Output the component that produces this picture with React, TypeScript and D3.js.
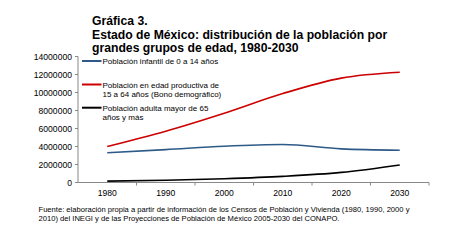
import React from "react";
import * as d3 from "d3";

const years = ["1980", "1990", "2000", "2010", "2020", "2030"];
const infantil = [3300000, 3650000, 4030000, 4220000, 3740000, 3590000];
const productiva = [4000000, 5700000, 7700000, 9880000, 11600000, 12250000];
const adulta = [150000, 250000, 420000, 680000, 1120000, 1950000];
const yTicks = [0, 2000000, 4000000, 6000000, 8000000, 10000000, 12000000, 14000000];

const titleLines = [
  "Gráfica 3.",
  "Estado de México: distribución de la población por",
  "grandes grupos de edad, 1980-2030",
];
const legendItems = [
  { lines: ["Población infantil de 0 a 14 años"], color: "#2E5A88" },
  { lines: ["Población en edad productiva de", "15 a 64 años (Bono demográfico)"], color: "#CC0000" },
  { lines: ["Población adulta mayor de 65", "años y más"], color: "#000000" },
];
const footerLines = [
  "Fuente: elaboración propia a partir de información de los Censos de Población y Vivienda (1980, 1990, 2000 y",
  "2010) del INEGI y de las Proyecciones de Población de México 2005-2030 del CONAPO.",
];

export default function App() {
  const W = 452, H = 247;
  const left = 78, right = 429, top = 56.5, bottom = 182.5;
  const x = d3.scaleBand<string>().domain(years).range([left, right]);
  const y = d3.scaleLinear().domain([0, 14000000]).range([bottom, top]);
  const cx = (i: number) => (x(years[i]) as number) + x.bandwidth() / 2;
  const line = d3
    .line<number>()
    .x((_, i) => cx(i))
    .y((d) => y(d))
    .curve(d3.curveMonotoneX);
  const series = [
    { data: infantil, color: "#2E5A88" },
    { data: productiva, color: "#CC0000" },
    { data: adulta, color: "#000000" },
  ];
  const font = "'Liberation Sans', Arial, sans-serif";
  const legendY = [61, 84.5, 107.7];
  return (
    <svg
      width={W}
      height={H}
      style={{ position: "absolute", left: 0, top: 0, background: "#fff" }}
      fontFamily={font}
    >
      {titleLines.map((t, i) => (
        <text key={i} x={92} y={25 + i * 13.5} fontSize={12.2} fontWeight="bold" fill="#000">
          {t}
        </text>
      ))}
      {/* y axis */}
      <line x1={left} x2={left} y1={top} y2={bottom} stroke="#888" />
      {yTicks.map((t) => (
        <g key={t}>
          <line x1={left - 3} x2={left} y1={y(t)} y2={y(t)} stroke="#888" />
          <text x={left - 6} y={y(t) + 3} fontSize={8.6} textAnchor="end" fill="#000">
            {t}
          </text>
        </g>
      ))}
      {/* x axis */}
      <line x1={left} x2={right} y1={bottom} y2={bottom} stroke="#888" />
      {years.map((yr, i) => (
        <g key={yr}>
          <line
            x1={(x(yr) as number) + x.bandwidth()}
            x2={(x(yr) as number) + x.bandwidth()}
            y1={bottom}
            y2={bottom + 3}
            stroke="#888"
          />
          <text x={cx(i)} y={196} fontSize={8.6} textAnchor="middle" fill="#000">
            {yr}
          </text>
        </g>
      ))}
      {series.map((s, i) => (
        <path key={i} d={line(s.data) || ""} fill="none" stroke={s.color} strokeWidth={1.6} />
      ))}
      {legendItems.map((it, i) => (
        <g key={i}>
          <line x1={82} x2={101.5} y1={legendY[i]} y2={legendY[i]} stroke={it.color} strokeWidth={2} />
          {it.lines.map((l, j) => (
            <text key={j} x={102.5} y={legendY[i] + 3 + j * 9.5} fontSize={8} fill="#000">
              {l}
            </text>
          ))}
        </g>
      ))}
      {footerLines.map((l, i) => (
        <text key={i} x={38.5} y={211.5 + i * 9.8} fontSize={7.6} fill="#000">
          {l}
        </text>
      ))}
    </svg>
  );
}
